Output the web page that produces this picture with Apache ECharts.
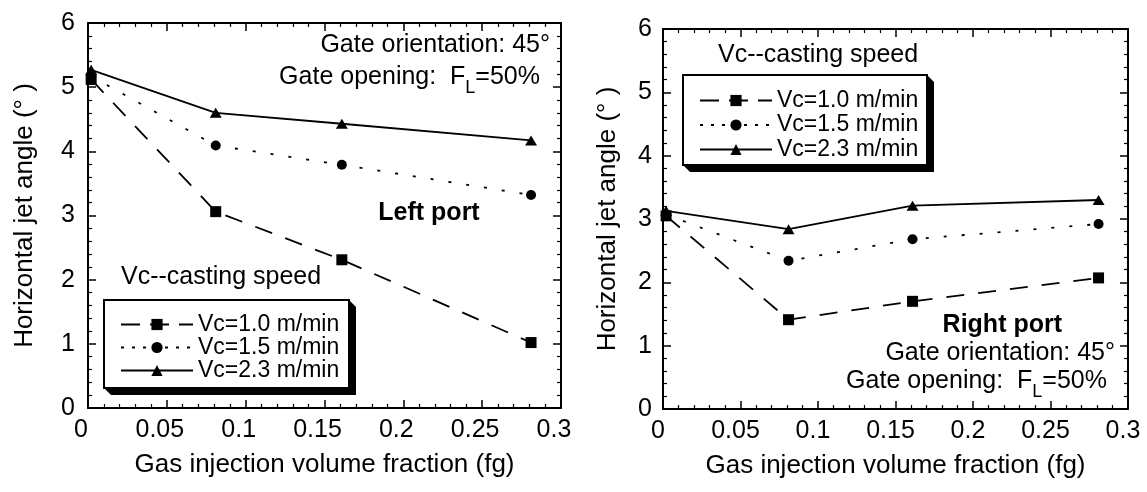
<!DOCTYPE html>
<html>
<head>
<meta charset="utf-8">
<script src="https://cdn.jsdelivr.net/npm/echarts@6/dist/echarts.min.js"></script>
<style>
  html, body { margin: 0; padding: 0; background: #fff; }
  #chart { width: 1147px; height: 492px; }
</style>
</head>
<body>
<div id="chart"></div>
<script>
// Gas injection volume fraction at which the jet angle was measured
const fgValues = [0.002, 0.081, 0.161, 0.281];

// Casting speeds (legend entries)
const speedNames = ['Vc=1.0 m/min', 'Vc=1.5 m/min', 'Vc=2.3 m/min'];

// Horizontal jet angle (deg), left port
const leftVc10 = [5.12, 3.06, 2.31, 1.02];
const leftVc15 = [5.17, 4.09, 3.79, 3.32];
const leftVc23 = [5.27, 4.60, 4.43, 4.17];

// Horizontal jet angle (deg), right port
const rightVc10 = [3.05, 1.41, 1.70, 2.07];
const rightVc15 = [3.07, 2.34, 2.68, 2.92];
const rightVc23 = [3.13, 2.84, 3.21, 3.30];

// Axis ranges
const xRange = { min: 0, max: 0.3, interval: 0.05 };
const yRange = { min: 0, max: 6, interval: 1 };

const xName = 'Gas injection volume fraction (fg)';
const yName = 'Horizontal jet angle (\u00b0 )';
const legendTitle = 'Vc--casting speed';

const FONT = '"Liberation Sans", Arial, Helvetica, sans-serif';
const BLACK = '#000';

// Marker / line appearance for each casting speed
const speedStyles = [
  { symbol: 'rect', symbolSize: 11, dash: [18, 14], legendDash: [19, 10] },
  { symbol: 'circle', symbolSize: 10, dash: [3, 15], legendDash: [3, 8] },
  { symbol: 'triangle', symbolSize: [12, 10], dash: 'solid', legendDash: 'solid' }
];

const toPairs = ys => fgValues.map((x, i) => [x, ys[i]]);

function frameAxisX(gridIndex, labelShift, withLabels) {
  return {
    type: 'value', gridIndex,
    position: withLabels ? 'bottom' : 'top',
    min: xRange.min, max: xRange.max, interval: xRange.interval,
    name: withLabels ? xName : '',
    nameLocation: 'middle', nameGap: 44, nameMoveOverlap: false,
    nameTextStyle: { fontSize: 26, color: BLACK, fontFamily: FONT },
    axisLine: { show: true, onZero: false, lineStyle: { color: BLACK, width: 2 } },
    axisTick: { show: true, inside: true, length: 8, lineStyle: { color: BLACK, width: 1.5 } },
    minorTick: { show: true, splitNumber: 5, length: 4, lineStyle: { color: BLACK, width: 1.2 } },
    splitLine: { show: false }, minorSplitLine: { show: false },
    axisLabel: withLabels
      ? { show: true, fontSize: 25, color: BLACK, fontFamily: FONT, margin: 10, padding: [0, labelShift, 0, 0] }
      : { show: false }
  };
}

function frameAxisY(gridIndex, margin, lift, nameGap, withLabels) {
  return {
    type: 'value', gridIndex,
    position: withLabels ? 'left' : 'right',
    min: yRange.min, max: yRange.max, interval: yRange.interval,
    name: withLabels ? yName : '',
    nameLocation: 'middle', nameGap, nameMoveOverlap: false,
    nameTextStyle: { fontSize: 26, color: BLACK, fontFamily: FONT },
    axisLine: { show: true, onZero: false, lineStyle: { color: BLACK, width: 2 } },
    axisTick: { show: true, inside: true, length: 8, lineStyle: { color: BLACK, width: 1.5 } },
    minorTick: { show: true, splitNumber: 5, length: 4, lineStyle: { color: BLACK, width: 1.2 } },
    splitLine: { show: false }, minorSplitLine: { show: false },
    axisLabel: withLabels
      ? { show: true, fontSize: 25, color: BLACK, fontFamily: FONT, margin, padding: [0, 0, lift, 0] }
      : { show: false }
  };
}

function speedSeries(values, axisIndex) {
  return values.map((ys, i) => ({
    type: 'line',
    name: speedNames[i],
    xAxisIndex: axisIndex, yAxisIndex: axisIndex,
    data: toPairs(ys),
    symbol: speedStyles[i].symbol,
    symbolSize: speedStyles[i].symbolSize,
    showSymbol: true,
    clip: false,
    lineStyle: { color: BLACK, width: 1.8, type: speedStyles[i].dash },
    itemStyle: { color: BLACK },
    emphasis: { disabled: true },
    z: 3 + i
  }));
}

// Legend entries only; the framed box behind them is drawn as graphic shapes
function speedLegend(left, top, gap) {
  return {
    show: true, orient: 'vertical', left, top,
    data: speedNames.map((n, i) => ({ name: n, lineStyle: { type: speedStyles[i].legendDash } })),
    itemWidth: 72, itemHeight: 14, itemGap: gap,
    padding: 0,
    backgroundColor: 'transparent', borderWidth: 0,
    textStyle: { fontSize: 23, color: BLACK, fontFamily: FONT, lineHeight: 22 },
    selectedMode: false,
    inactiveColor: BLACK,
    z: 5
  };
}

// White framed box with a solid black extruded shadow on the lower right
function legendFrame(x, y, w, h, depth) {
  return [
    {
      type: 'polygon', silent: true, z: 3,
      shape: { points: [[x + w, y], [x + w + depth, y + depth], [x + w + depth, y + h + depth], [x + depth, y + h + depth], [x, y + h]] },
      style: { fill: BLACK }
    },
    {
      type: 'rect', silent: true, z: 4,
      shape: { x, y, width: w, height: h },
      style: { fill: '#fff', stroke: BLACK, lineWidth: 2 }
    }
  ];
}

function label(text, x, y, align, opts) {
  return {
    type: 'text', x, y, silent: true, z: 100,
    style: Object.assign({
      text, align, textAlign: align, verticalAlign: 'middle', textVerticalAlign: 'middle',
      fontSize: 25, fontFamily: FONT, fill: BLACK
    }, opts || {})
  };
}

function gateOpeningLabel(x, y) {
  return {
    type: 'text', x, y, silent: true, z: 100,
    style: {
      text: '{a|Gate opening:  F}{s|L}{a|=50%}',
      align: 'right', textAlign: 'right', verticalAlign: 'middle', textVerticalAlign: 'middle',
      fill: BLACK,
      rich: {
        a: { fontSize: 25, fontFamily: FONT, fill: BLACK, lineHeight: 40 },
        s: { fontSize: 18, fontFamily: FONT, fill: BLACK, lineHeight: 18, verticalAlign: 'bottom' }
      }
    }
  };
}

const chart = echarts.init(document.getElementById('chart'), null, { renderer: 'canvas' });

chart.setOption({
  animation: false,
  backgroundColor: '#fff',
  textStyle: { fontFamily: FONT, color: BLACK },
  grid: [
    { left: 88, top: 23, width: 473, height: 385, outerBoundsMode: 'none', containLabel: false },
    { left: 663, top: 29, width: 465, height: 380, outerBoundsMode: 'none', containLabel: false }
  ],
  xAxis: [
    frameAxisX(0, 14, true), frameAxisX(0, 0, false),
    frameAxisX(1, 10, true), frameAxisX(1, 0, false)
  ],
  yAxis: [
    frameAxisY(0, 13, 6, 50, true), frameAxisY(0, 0, 0, 0, false),
    frameAxisY(1, 11, 2, 42, true), frameAxisY(1, 0, 0, 0, false)
  ],
  legend: [speedLegend(120, 313, 0), speedLegend(699, 89, 1.5)],
  series: [
    ...speedSeries([leftVc10, leftVc15, leftVc23], 0),
    ...speedSeries([rightVc10, rightVc15, rightVc23], 2)
  ],
  graphic: [
    ...legendFrame(104, 300, 245, 88, 7),
    ...legendFrame(683, 75, 244, 90, 7),
    // left port annotations
    label('Gate orientation: 45\u00b0', 550, 45, 'right'),
    gateOpeningLabel(540, 77),
    label('Left port', 429, 213, 'center', { fontWeight: 'bold' }),
    label(legendTitle, 121, 277, 'left'),
    // right port annotations
    label(legendTitle, 718, 55, 'left'),
    label('Right port', 1062, 325, 'right', { fontWeight: 'bold' }),
    label('Gate orientation: 45\u00b0', 1115, 353, 'right'),
    gateOpeningLabel(1107, 381)
  ]
});
</script>
</body>
</html>
